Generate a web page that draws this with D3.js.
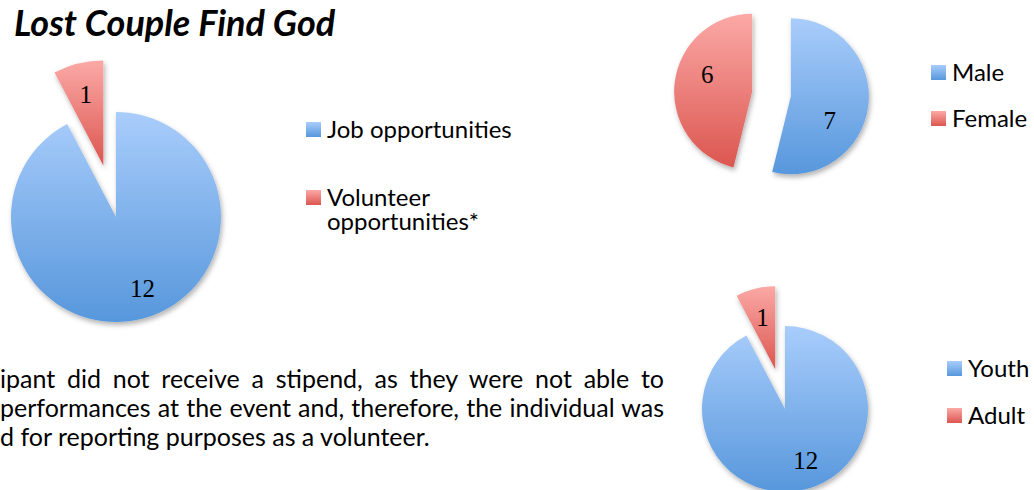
<!DOCTYPE html>
<html>
<head>
<meta charset="utf-8">
<script src="https://cdn.jsdelivr.net/npm/d3@7"></script>
<style>
  body { margin: 0; background: #fff; }
  svg { display: block; }
</style>
</head>
<body>
<div id="chart"></div>
<script>

  // data
  const title = "Lost Couple Find God";

  const work_labels = ["Job opportunities", "Volunteer opportunities*"];
  const work_values = [12, 1];

  const gender_labels = ["Male", "Female"];
  const gender_values = [7, 6];

  const age_labels = ["Youth", "Adult"];
  const age_values = [12, 1];

  const footnote_lines = [
    "ipant did not receive a stipend, as they were not able to",
    "performances at the event and, therefore, the individual was",
    "d for reporting purposes as a volunteer."
  ];

  const width = 1034;
  const height = 490;
  const fill_ids = ["blueFill", "redFill"];

  const svg = d3.select("#chart")
    .append("svg")
    .attr("width", width)
    .attr("height", height);

  // gradients + shadow
  const defs = svg.append("defs");
  function add_gradient(id, top, bottom) {
    const g = defs.append("linearGradient")
      .attr("id", id)
      .attr("x1", 0).attr("y1", 0)
      .attr("x2", 0).attr("y2", 1);
    g.append("stop").attr("offset", "0%").attr("stop-color", top);
    g.append("stop").attr("offset", "100%").attr("stop-color", bottom);
  }
  add_gradient("blueFill", "#a9cdfb", "#5797dc");
  add_gradient("redFill", "#fba9a6", "#dc5650");

  const shadow = defs.append("filter")
    .attr("id", "shadow")
    .attr("x", "-20%").attr("y", "-20%")
    .attr("width", "140%").attr("height", "140%");
  shadow.append("feDropShadow")
    .attr("dx", 1.5).attr("dy", 3)
    .attr("stdDeviation", 2.5)
    .attr("flood-color", "#000")
    .attr("flood-opacity", 0.3);

  // one pie: values, centre, radius, explode distance per slice, label radius
  function draw_pie(values, spec) {
    const pie = d3.pie().sort(null).startAngle(0).endAngle(2 * Math.PI);
    const arc = d3.arc().innerRadius(0).outerRadius(spec.r);
    const arcs = pie(values);

    const g = svg.append("g")
      .attr("transform", `translate(${spec.cx}, ${spec.cy})`);

    const slice = g.selectAll("g.slice")
      .data(arcs)
      .join("g")
      .attr("class", "slice")
      .attr("transform", function (d, i) {
        const a = (d.startAngle + d.endAngle) / 2;
        const e = spec.explode[i];
        return `translate(${e * Math.sin(a)}, ${-e * Math.cos(a)})`;
      });

    slice.append("path")
      .attr("d", arc)
      .attr("fill", function (d, i) { return `url(#${fill_ids[i]})`; })
      .attr("filter", "url(#shadow)");

    slice.append("text")
      .attr("x", function (d) {
        const a = (d.startAngle + d.endAngle) / 2;
        return spec.label_r * spec.r * Math.sin(a) + (spec.label_dx ? spec.label_dx[d.index] : 0);
      })
      .attr("y", function (d) {
        const a = (d.startAngle + d.endAngle) / 2;
        return -spec.label_r * spec.r * Math.cos(a) + (spec.label_dy ? spec.label_dy[d.index] : 0);
      })
      .attr("dy", "0.35em")
      .attr("text-anchor", "middle")
      .style("font-family", "'Liberation Serif', 'DejaVu Serif', serif")
      .style("font-size", "25px")
      .style("fill", "#000")
      .text(function (d) { return d.data; });
  }

  // legend: list of labels, each may wrap to several lines
  function draw_legend(labels, spec) {
    const g = svg.append("g");
    labels.forEach(function (label, i) {
      const lines = spec.wrap ? spec.wrap[i] : [label];
      const base = spec.y[i];
      g.append("rect")
        .attr("x", spec.x)
        .attr("y", base - 16)
        .attr("width", 15)
        .attr("height", 15)
        .attr("fill", `url(#${fill_ids[i]})`);
      lines.forEach(function (line, j) {
        g.append("text")
          .attr("x", spec.x + 21)
          .attr("y", base + j * 24)
          .style("font-family", "Lato, 'Open Sans', sans-serif")
          .style("font-size", "24px")
          .style("fill", "#000")
          .text(line);
      });
    });
  }

  // title
  svg.append("text")
    .attr("x", 14)
    .attr("y", 36)
    .style("font-family", "Lato, 'Open Sans', sans-serif")
    .style("font-size", "36px")
    .style("font-weight", "bold")
    .style("font-style", "italic")
    .text(title);

  draw_pie(work_values, { cx: 116, cy: 217, r: 105, explode: [0, 53], label_r: 0.7, label_dx: [9, 0] });
  draw_legend(work_labels, { x: 306, y: [138, 206], wrap: [["Job opportunities"], ["Volunteer", "opportunities*"]] });

  draw_pie(gender_values, { cx: 771.5, cy: 94, r: 78, explode: [19.5, 19.5], label_r: 0.58, label_dx: [-6, 0], label_dy: [18, -12] });
  draw_legend(gender_labels, { x: 931, y: [81, 127] });

  draw_pie(age_values, { cx: 785, cy: 409, r: 83, explode: [0, 41], label_r: 0.64, label_dx: [8, 0] });
  draw_legend(age_labels, { x: 947, y: [377, 424] });

  // footnote (left part is cut off in the original); first two lines are justified to x=664
  const note = svg.append("g")
    .selectAll("text")
    .data(footnote_lines)
    .join("text")
    .attr("x", 0)
    .attr("y", function (d, i) { return 388 + i * 29; })
    .style("font-family", "Lato, 'Open Sans', sans-serif")
    .style("font-size", "25px")
    .style("fill", "#000")
    .text(function (d) { return d; });

  note.each(function (d, i) {
    if (i == footnote_lines.length - 1) return;
    const len = this.getComputedTextLength();
    const gaps = d.split(" ").length - 1;
    const extra = (664 - len) / gaps;
    d3.select(this).style("word-spacing", extra + "px");
    // anchor the end at the justified edge
    const len2 = this.getComputedTextLength();
    d3.select(this).attr("x", 664 - len2);
  });

</script>
</body>
</html>
